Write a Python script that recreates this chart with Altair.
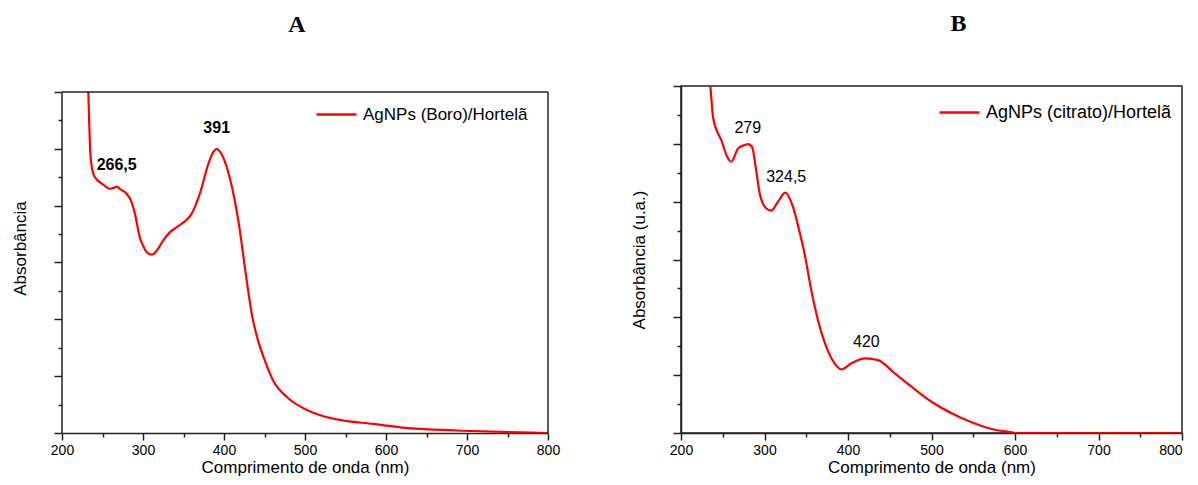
import altair as alt
import pandas as pd

# ---------------- data ----------------
a_wavelength = [232.5, 233.5, 234.6, 236.5, 239, 243, 251, 259, 263, 267.5, 272, 278, 286, 290,
                296, 300, 304.6, 310.7, 317, 325, 333, 342, 350, 360, 370, 380.6, 386, 391,
                397, 407, 417.7, 428, 434.6, 442, 449.4, 460.5, 479, 502.5, 522, 543, 584, 625,
                707, 769, 800]
a_absorbance = [12.0, 11.0, 10.05, 9.4, 9.1, 8.92, 8.74, 8.59, 8.62, 8.67, 8.58, 8.47, 8.12, 7.72,
                6.89, 6.6, 6.36, 6.28, 6.42, 6.78, 7.06, 7.25, 7.41, 7.71, 8.41, 9.46, 9.85, 9.99,
                9.81, 8.99, 7.47, 5.37, 4.14, 3.26, 2.63, 1.86, 1.23, 0.81, 0.60, 0.46, 0.32, 0.18,
                0.07, 0.02, 0.0]

b_wavelength = [234, 236, 238.3, 244.3, 248.3, 254.3, 260.2, 268.3, 276.3, 280.2, 285, 290,
                294.2, 300.2, 308.1, 316.2, 324.9, 334, 342, 348, 356, 364, 374, 384, 392, 404,
                420.7, 436, 456, 476, 500, 524, 548, 572, 596, 600, 700, 800]
b_absorbance = [12.4, 11.7, 10.94, 10.36, 10.13, 9.61, 9.38, 9.84, 9.96, 9.99, 9.9, 9.09,
                8.29, 7.83, 7.69, 8.0, 8.31, 7.83, 6.95, 6.2, 4.94, 3.91, 2.98, 2.41, 2.2, 2.41,
                2.58, 2.52, 2.06, 1.6, 1.08, 0.68, 0.37, 0.14, 0.02, 0.0, 0.0, 0.0]

a_series = "AgNPs (Boro)/Hortelã"
b_series = "AgNPs (citrato)/Hortelã"

a_peak_wl = [267.5, 391]
a_peak_y = [9.44, 10.74]
a_peak_text = ["266,5", "391"]

b_peak_wl = [280, 326, 422]
b_peak_y = [10.56, 8.86, 3.16]
b_peak_text = ["279", "324,5", "420"]

x_ticks = list(range(200, 801, 50))
y_ticks = list(range(0, 13))
x_range = [200, 800]
y_range = [0, 12]

FONT = "Liberation Sans"
RED = "#ff0000"
INK = "#222222"


def panel(wl, ab, series, pk_wl, pk_y, pk_text, title, title_dx, width, height, y_top,
          legend_x, legend_y, legend_size, ytitle, ytitle_y, weight, own_frame, last_right):
    df = pd.DataFrame({"wl": wl, "ab": ab, "series": series})
    pk = pd.DataFrame({"wl": pk_wl, "ab": pk_y, "txt": pk_text})
    xs = alt.Scale(domain=x_range, nice=False, zero=False)
    ys = alt.Scale(domain=[y_range[0], y_top], nice=False)
    xargs = dict(
        values=x_ticks,
        labelExpr="datum.value % 100 === 0 ? datum.label : ''",
        tickSize={"condition": {"test": "datum.value % 100 === 0", "value": 7}, "value": 4},
        labelFontSize=14, labelFont=FONT, labelColor="black", labelPadding=3,
        labelOverlap=False, labelFlush=False,
        title="Comprimento de onda (nm)", titleFont=FONT, titleFontSize=17,
        titleFontWeight="normal", titleColor="black", titlePadding=2,
        grid=False, domainColor=INK, domainWidth=1.5, tickColor=INK, tickWidth=1.5,
    )
    if last_right:
        xargs["labelAlign"] = {"condition": {"test": f"datum.value === {x_range[1]}",
                                             "value": "right"}, "value": "center"}
    xaxis = alt.Axis(**xargs)
    yargs = dict(
        values=y_ticks, labels=False,
        tickSize={"condition": {"test": "datum.value % 2 === 0", "value": 8}, "value": 4},
        title=ytitle, titleFont=FONT, titleFontSize=17, titleFontWeight="normal",
        titleColor="black", titlePadding=24,
        grid=False, domainColor=INK, domainWidth=1.5, tickColor=INK, tickWidth=1.5,
        domain=not own_frame,
    )
    if ytitle_y is not None:
        yargs["titleY"] = ytitle_y
    yaxis = alt.Axis(**yargs)

    line = alt.Chart(df).mark_line(strokeWidth=2.2, interpolate="monotone", clip=True).encode(
        x=alt.X("wl:Q", scale=xs, axis=xaxis),
        y=alt.Y("ab:Q", scale=ys, axis=yaxis),
        color=alt.Color(
            "series:N", scale=alt.Scale(range=[RED]), title=None,
            legend=alt.Legend(
                orient="none", legendX=legend_x, legendY=legend_y,
                symbolType="stroke", symbolSize=1600, symbolStrokeWidth=2.5,
                labelFont=FONT, labelFontSize=legend_size, labelColor="black", labelOffset=5,
                labelLimit=400, padding=0,
            ),
        ),
    )
    labels = alt.Chart(pk).mark_text(
        font=FONT, fontSize=16, fontWeight=weight, color="black",
        align="center", baseline="middle",
    ).encode(
        x=alt.X("wl:Q", scale=xs, axis=xaxis),
        y=alt.Y("ab:Q", scale=ys, axis=yaxis),
        text="txt:N",
    )
    layers = [line, labels]
    props = dict(width=width, height=height,
                 title=alt.TitleParams(
                     text=title, font="Liberation Serif", fontSize=24, fontWeight="bold",
                     color="black", offset=49, frame="group", anchor="middle", dx=title_dx,
                 ))
    if own_frame:
        frame = pd.DataFrame({
            "x": [x_range[0], x_range[0], x_range[1]],
            "x2": [x_range[0], x_range[1], x_range[1]],
            "y": [y_range[0], y_range[1], y_range[0]],
            "y2": [y_range[1], y_range[1], y_range[1]],
        })
        border = alt.Chart(frame).mark_rule(color=INK, strokeWidth=1.5).encode(
            x=alt.X("x:Q", scale=xs, axis=xaxis), x2="x2:Q",
            y=alt.Y("y:Q", scale=ys, axis=yaxis), y2="y2:Q",
        )
        layers.append(border)
        props["view"] = alt.ViewConfig(stroke="transparent")
    return alt.layer(*layers).properties(**props)


# Panel A: the frame sits 6 px lower than B's, so its view is extended upward
a_height = 347
a_top = 12 * 347 / 341
chart_a = panel(a_wavelength, a_absorbance, a_series, a_peak_wl, a_peak_y, a_peak_text,
                "A", -8, 486, a_height, a_top, 253, 7, 17, "Absorbância", 162, "bold",
                True, False)
chart_b = panel(b_wavelength, b_absorbance, b_series, b_peak_wl, b_peak_y, b_peak_text,
                "B", 27, 501, 347, 12, 257, 5, 18, "Absorbância (u.a.)", None, "normal",
                False, True)

chart = alt.hconcat(chart_a, chart_b, spacing=68).resolve_scale(color="independent").configure_view(
    stroke=INK, strokeWidth=1.5
).properties(
    padding={"left": 2, "top": 3, "right": 0, "bottom": 0},
    background="white",
)

chart.save("out.html", embed_options={"renderer": "svg", "actions": False})
